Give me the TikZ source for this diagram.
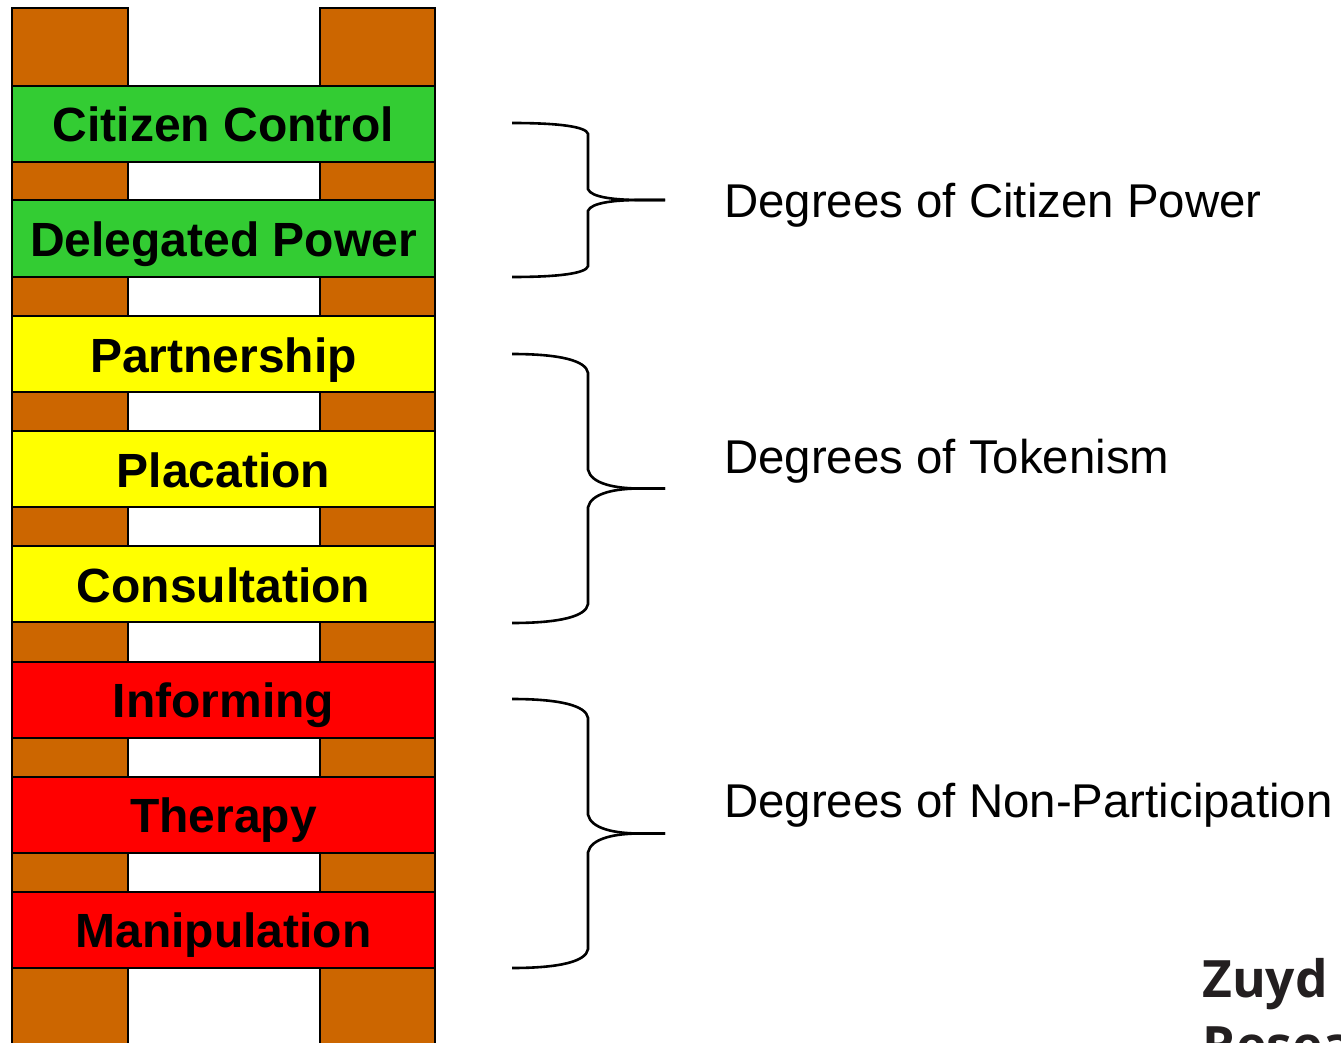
\documentclass[tikz,border=0pt]{standalone}
\usepackage{fontspec}
\setmainfont{Liberation Sans}
\newfontfamily\zuydfont{Open Sans}
\definecolor{railc}{HTML}{CC6600}
\definecolor{greenc}{HTML}{33CC33}
\definecolor{yellowc}{HTML}{FFFF00}
\definecolor{redc}{HTML}{FF0000}
\definecolor{zuydc}{HTML}{231F20}
\tikzset{
  rail/.style={draw=black, line width=2pt, fill=railc},
  rung/.style={draw=black, line width=2pt, minimum width=423pt, minimum height=76pt,
    inner sep=0pt, font=\fontsize{48}{48}\selectfont\bfseries, text height=36pt, text depth=0pt},
  brace/.style={draw=black, line width=2.6pt},
  grouplabel/.style={anchor=base west, inner sep=0pt, font=\fontsize{47.4}{47.4}\selectfont},
  zuydtext/.style={anchor=base west, inner sep=0pt, text=zuydc, font=\zuydfont\bfseries\fontsize{51.5}{51.5}\selectfont}
}
\begin{document}
\begin{tikzpicture}[x=1pt,y=-1pt]
\useasboundingbox (0,0) rectangle (1341,1043);
\begin{scope}
\clip (0,0) rectangle (1341,1043);
\draw[rail] (12,8) rectangle (128,1080);
\draw[rail] (320,8) rectangle (435,1080);
\end{scope}
\node[rung, fill=greenc]  (cc) at (223.5,124)   {Citizen Control};
\node[rung, fill=greenc]  (dp) at (223.5,238.5) {Delegated Power};
\node[rung, fill=yellowc] (pa) at (223.5,354)   {Partnership};
\node[rung, fill=yellowc] (pl) at (223.5,469)   {Placation};
\node[rung, fill=yellowc] (co) at (223.5,584)   {Consultation};
\node[rung, fill=redc]    (in) at (223.5,699.5) {Informing};
\node[rung, fill=redc]    (th) at (223.5,814.5) {Therapy};
\node[rung, fill=redc]    (ma) at (223.5,929.5) {Manipulation};
% braces
\foreach \ya/\yb in {123/277, 354/623, 699/968}{
  \pgfmathsetmacro{\ym}{(\ya+\yb)/2}
  \pgfmathsetmacro{\d}{0.07*(\yb-\ya)}
  \draw[brace] (512,\ya) .. controls (560,\ya) and (586,\ya+0.35*\d) .. (588,\ya+\d)
    -- (588,\ym-\d) .. controls (591,\ym-0.25*\d) and (615,\ym) .. (640,\ym) -- (665,\ym);
  \draw[brace] (665,\ym) -- (640,\ym) .. controls (615,\ym) and (591,\ym+0.25*\d) .. (588,\ym+\d)
    -- (588,\yb-\d) .. controls (586,\yb-0.35*\d) and (560,\yb) .. (512,\yb);
}
\node[grouplabel] (gp) at (724,218) {Degrees of Citizen Power};
\node[grouplabel] (gt) at (724,473) {Degrees of Tokenism};
\node[grouplabel] (gn) at (724,817) {Degrees of Non-Participation};
\node[zuydtext] (zu) at (1202,997) {Zuyd};
\node[zuydtext] (zr) at (1202,1063) {Research};
\end{tikzpicture}
\end{document}
